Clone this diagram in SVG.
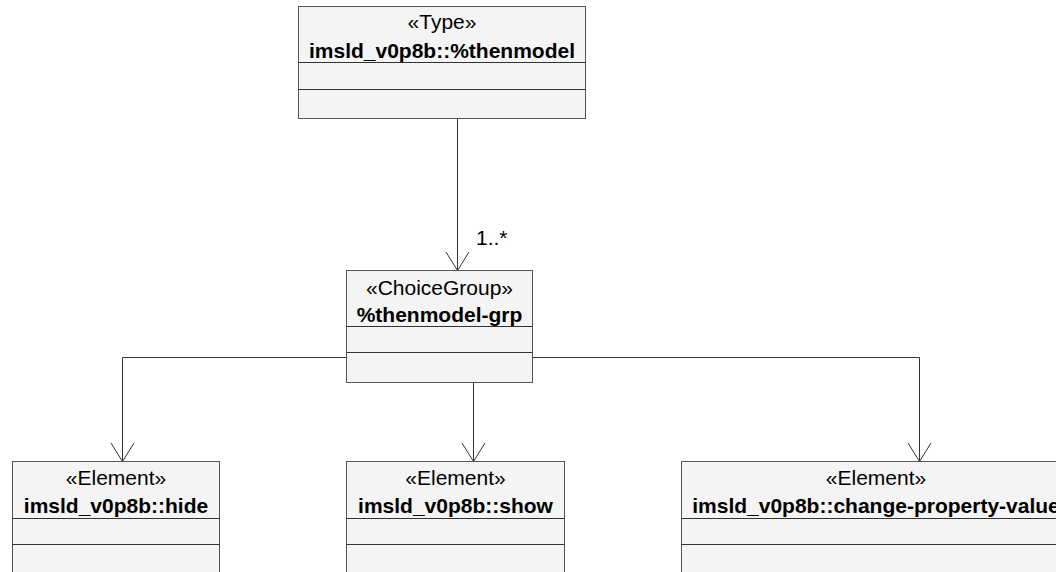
<svg xmlns="http://www.w3.org/2000/svg" width="1056" height="572" viewBox="0 0 1056 572">
<style>
.box{fill:#f4f4f4;stroke:#555;stroke-width:1}
.div{stroke:#333;stroke-width:1}
.st{font-family:"Liberation Sans",Arial,sans-serif;font-size:21px;fill:#000;text-anchor:middle}
.nm{font-family:"Liberation Sans",Arial,sans-serif;font-size:21px;font-weight:bold;fill:#000;text-anchor:middle}
.lbl{font-family:"Liberation Sans",Arial,sans-serif;font-size:21px;fill:#000}
.ln{fill:none;stroke:#333;stroke-width:1}
</style>
<rect width="1056" height="572" fill="#fff"/>
<g id="connectors">
<path class="ln" d="M457.5,118.5V270.5"/>
<path class="ln" d="M446,252L457.5,270.5L469,252"/>
<text class="lbl" x="476" y="245">1..*</text>
<path class="ln" d="M346.5,357.5H122.5V461.5"/>
<path class="ln" d="M111,443L122.5,461.5L134,443"/>
<path class="ln" d="M473.5,382.5V461.5"/>
<path class="ln" d="M462,443L473.5,461.5L485,443"/>
<path class="ln" d="M532.5,357.5H919.5V461.5"/>
<path class="ln" d="M908,443L919.5,461.5L931,443"/>
</g>
<g id="thenmodel">
<rect class="box" x="298.5" y="6.5" width="287" height="112"/>
<line class="div" x1="298.5" y1="62.5" x2="585.5" y2="62.5"/>
<line class="div" x1="298.5" y1="89.5" x2="585.5" y2="89.5"/>
<text class="st" x="442" y="29">«Type»</text>
<text class="nm" x="442" y="58">imsld_v0p8b::%thenmodel</text>
</g>
<g id="thenmodel-grp">
<rect class="box" x="346.5" y="270.5" width="186" height="112"/>
<line class="div" x1="346.5" y1="326.5" x2="532.5" y2="326.5"/>
<line class="div" x1="346.5" y1="352.5" x2="532.5" y2="352.5"/>
<text class="st" x="439.5" y="295">«ChoiceGroup»</text>
<text class="nm" x="439.5" y="322">%thenmodel-grp</text>
</g>
<g id="hide">
<rect class="box" x="12.5" y="461.5" width="207" height="120"/>
<line class="div" x1="12.5" y1="518.5" x2="219.5" y2="518.5"/>
<line class="div" x1="12.5" y1="544.5" x2="219.5" y2="544.5"/>
<text class="st" x="116" y="485">«Element»</text>
<text class="nm" x="116" y="513">imsld_v0p8b::hide</text>
</g>
<g id="show">
<rect class="box" x="346.5" y="461.5" width="218" height="120"/>
<line class="div" x1="346.5" y1="518.5" x2="564.5" y2="518.5"/>
<line class="div" x1="346.5" y1="544.5" x2="564.5" y2="544.5"/>
<text class="st" x="455.5" y="485">«Element»</text>
<text class="nm" x="455.5" y="513">imsld_v0p8b::show</text>
</g>
<g id="change-property-value">
<rect class="box" x="681.5" y="461.5" width="390" height="120"/>
<line class="div" x1="681.5" y1="518.5" x2="1071.5" y2="518.5"/>
<line class="div" x1="681.5" y1="544.5" x2="1071.5" y2="544.5"/>
<text class="st" x="876" y="485">«Element»</text>
<text class="nm" x="876" y="513">imsld_v0p8b::change-property-value</text>
</g>
</svg>
